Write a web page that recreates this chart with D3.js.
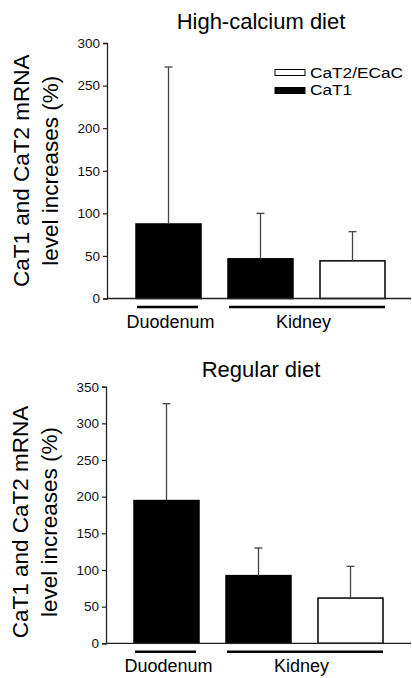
<!DOCTYPE html>
<html>
<head>
<meta charset="utf-8">
<script src="https://cdn.jsdelivr.net/npm/d3@7"></script>
<style>
  html, body { margin: 0; padding: 0; background: #fff; }
  svg { display: block; font-family: "Liberation Sans", Arial, Helvetica, sans-serif; }
</style>
</head>
<body>
<svg id="chart" width="412" height="678"></svg>
<script>
// ---- data ----
const barKeys = ["Duodenum CaT1", "Kidney CaT1", "Kidney CaT2"];
const barSeries = ["CaT1", "CaT1", "CaT2/ECaC"];
const groupLabels = ["Duodenum", "Kidney"];
const groupMembers = [["Duodenum CaT1"], ["Kidney CaT1", "Kidney CaT2"]];
const highCaMeans = [87.5, 46.6, 44.2];
const highCaSD = [184.3, 53.4, 34.3];
const regularMeans = [194.7, 92.3, 61.7];
const regularSD = [132.1, 37.7, 43.3];
const highCaTicks = [0, 50, 100, 150, 200, 250, 300];
const regularTicks = [0, 50, 100, 150, 200, 250, 300, 350];
const legendLabels = ["CaT2/ECaC", "CaT1"];
const yTitleLines = ["CaT1 and CaT2 mRNA", "level increases (%)"];

const svg = d3.select("#chart");
const fillFor = s => s === "CaT1" ? "#000" : "#fff";

function panel(opt) {
  const g = svg.append("g");
  const y = d3.scaleLinear().domain([0, opt.max]).range([opt.y0, opt.y1]);
  const x = d3.scalePoint().domain(barKeys).range([opt.c0, opt.c0 + 184]);
  const bw = 65;

  // title
  g.append("text").attr("x", 261).attr("y", opt.titleY)
    .attr("text-anchor", "middle").attr("font-size", 22).attr("fill", "#000")
    .text(opt.title);

  // y axis
  const ax = g.append("g").attr("transform", `translate(${opt.ax},0)`)
    .call(d3.axisLeft(y).tickValues(opt.ticks).tickSize(4).tickPadding(3).tickFormat(d3.format("d")));
  ax.select(".domain").attr("stroke", "#222").attr("stroke-width", 1.3);
  ax.selectAll(".tick line").attr("stroke", "#222").attr("stroke-width", 1.2);
  ax.selectAll(".tick text").attr("font-size", 13.5).attr("fill", "#111")
    .attr("font-family", "Liberation Sans, Arial, sans-serif");

  // y title
  const yt = g.append("text").attr("transform", `translate(${opt.ax - 78},${(opt.y0 + opt.y1) / 2 + opt.ytOff}) rotate(-90)`)
    .attr("text-anchor", "middle").attr("font-size", 22.5).attr("fill", "#000");
  yTitleLines.forEach((t, i) => yt.append("tspan").attr("x", 0).attr("y", i * 29).text(t));

  // bars
  barKeys.forEach((k, i) => {
    g.append("rect").attr("x", x(k) - bw / 2).attr("y", y(opt.means[i]))
      .attr("width", bw).attr("height", y(0) - y(opt.means[i]))
      .attr("fill", fillFor(barSeries[i])).attr("stroke", "#000").attr("stroke-width", 1.5);
    const top = opt.means[i] + opt.sd[i];
    g.append("line").attr("x1", x(k)).attr("x2", x(k)).attr("y1", y(opt.means[i])).attr("y2", y(top))
      .attr("stroke", "#444").attr("stroke-width", 1.3);
    g.append("line").attr("x1", x(k) - 4).attr("x2", x(k) + 4).attr("y1", y(top)).attr("y2", y(top))
      .attr("stroke", "#444").attr("stroke-width", 1.3);
  });

  // baseline
  g.append("line").attr("x1", opt.ax).attr("x2", 411).attr("y1", y(0)).attr("y2", y(0))
    .attr("stroke", "#222").attr("stroke-width", 1.3);

  // group underlines + labels
  groupLabels.forEach((lab, j) => {
    const mem = groupMembers[j];
    const xa = x(mem[0]) - bw / 2 + 1, xb = x(mem[mem.length - 1]) + bw / 2 - (mem.length === 1 ? 3 : 0);
    g.append("line").attr("x1", xa).attr("x2", xb).attr("y1", y(0) + 8.5).attr("y2", y(0) + 8.5)
      .attr("stroke", "#000").attr("stroke-width", 2.5);
    g.append("text").attr("x", (x(mem[0]) + x(mem[mem.length - 1])) / 2 + (mem.length === 1 ? 2 : -3))
      .attr("y", y(0) + 29).attr("text-anchor", "middle").attr("font-size", 18).attr("fill", "#000").text(lab);
  });

  // legend
  if (opt.legend) {
    const lg = g.append("g");
    legendLabels.forEach((lab, i) => {
      lg.append("rect").attr("x", 275).attr("y", 69.5 + i * 18).attr("width", 30).attr("height", 6)
        .attr("fill", i === 0 ? "#fff" : "#000").attr("stroke", "#000").attr("stroke-width", 1);
      lg.append("text").attr("transform", `translate(310,${77.5 + i * 17.5}) scale(1.15,1)`)
        .attr("font-size", 15).attr("fill", "#000").text(lab);
    });
  }
}

panel({ title: "High-calcium diet", titleY: 29, max: 300, ticks: highCaTicks, y0: 298.5, y1: 43,
        ax: 107, c0: 168.5, means: highCaMeans, sd: highCaSD, legend: true, ytOff: 0 });
panel({ title: "Regular diet", titleY: 377, max: 350, ticks: regularTicks, y0: 643.3, y1: 386.7,
        ax: 106, c0: 166.5, means: regularMeans, sd: regularSD, legend: false, ytOff: 7 });
</script>
</body>
</html>
